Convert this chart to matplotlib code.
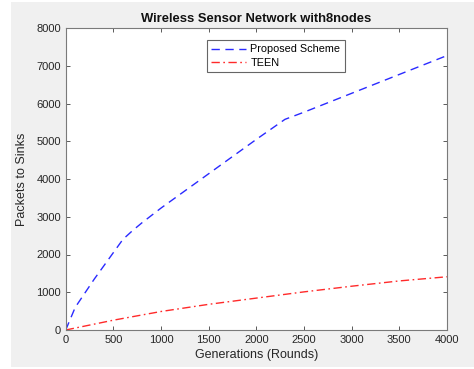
import matplotlib
matplotlib.use("Agg")
import matplotlib.pyplot as plt
from matplotlib.patches import Rectangle

plt.rcParams['font.family'] = ['Liberation Sans', 'DejaVu Sans']

# Proposed scheme: packets delivered to sinks over rounds
proposed_rounds = [0, 100, 300, 600, 700, 800, 1000, 1500, 2000, 2300, 2500, 3000, 3500, 4000]
proposed_packets = [0, 600, 1350, 2400, 2630, 2840, 3230, 4140, 5050, 5580, 5770, 6270, 6770, 7270]

# TEEN protocol
teen_rounds = [0, 500, 1000, 1500, 2000, 2500, 3000, 3500, 4000]
teen_packets = [0, 260, 490, 680, 845, 1010, 1160, 1300, 1410]

xticks = [0, 500, 1000, 1500, 2000, 2500, 3000, 3500, 4000]
yticks = [0, 1000, 2000, 3000, 4000, 5000, 6000, 7000, 8000]

W, H = 474, 369
fig = plt.figure(figsize=(W / 100, H / 100), dpi=100, facecolor='white')
fig.patches.append(Rectangle((11 / W, 2 / H), 1 - 11 / W, 1 - 4 / H,
                             transform=fig.transFigure, facecolor='#f0f0f0',
                             edgecolor='none', zorder=-10))

ax = fig.add_axes([65.7 / W, 1 - 330 / H, (447 - 65.7) / W, (330 - 28) / H])
ax.set_zorder(1)
ax.set_facecolor('white')

ax.plot(proposed_rounds, proposed_packets, color='#2a2aff', linestyle=(0, (6, 4)),
        linewidth=1.0, label='Proposed Scheme')
ax.plot(teen_rounds, teen_packets, color='#ff2a2a', linestyle=(0, (6, 2.5, 1.2, 2.5)),
        linewidth=1.0, label='TEEN')

ax.set_xlim(0, 4000)
ax.set_ylim(0, 8000)
ax.set_xticks(xticks)
ax.set_yticks(yticks)
ax.tick_params(direction='in', length=3, width=0.6, colors='#404040',
               labelcolor='#262626', labelsize=8, top=True, right=True)
for s in ax.spines.values():
    s.set_color('#7a7a7a')
    s.set_linewidth(0.8)

ax.set_title('Wireless Sensor Network with8nodes', fontsize=9.4, fontweight='bold',
             color='#111111', pad=4)
ax.set_xlabel('Generations (Rounds)', fontsize=9, color='#262626', labelpad=3)
ax.set_ylabel('Packets to Sinks', fontsize=9, color='#262626', labelpad=6)

leg = ax.legend(loc='upper left', bbox_to_anchor=((207 - 65.7) / (447 - 65.7), 1 - (40 - 28) / 302),
                fontsize=7.8, frameon=True, fancybox=False, handlelength=3.2,
                borderpad=0.4, labelspacing=0.3, handletextpad=0.4, borderaxespad=0)
leg.get_frame().set_edgecolor('#404040')
leg.get_frame().set_linewidth(0.8)

fig.savefig('out.png', dpi=100, facecolor=fig.get_facecolor())
